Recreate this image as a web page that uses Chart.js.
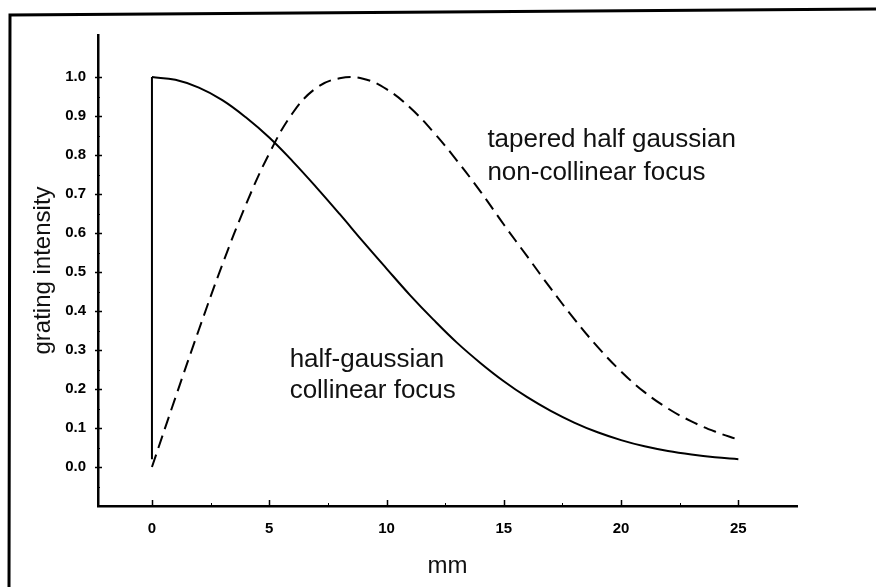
<!DOCTYPE html>
<html>
<head>
<meta charset="utf-8">
<title>grating intensity</title>
<script src="https://cdn.jsdelivr.net/npm/chart.js@4"></script>
<style>
  html, body { margin: 0; padding: 0; background: #fff; }
  #wrap { width: 876px; height: 587px; }
</style>
</head>
<body>
<div id="wrap"><canvas id="gratingChart" width="876" height="587"></canvas></div>
<script>
// position along the grating (mm)
const mm = [0, 1, 2, 3, 4, 5, 6, 7, 8, 9, 10, 11, 12, 13, 14, 15, 16, 17, 18, 19, 20, 21, 22, 23, 24, 25];

// solid curve: half-gaussian, collinear focus (starts with a vertical edge at 0 mm)
const halfGaussianEdge = [0.02, 1.0];
const halfGaussian = [1.000, 0.993, 0.973, 0.941, 0.897, 0.845, 0.784, 0.718, 0.649, 0.578, 0.509, 0.441, 0.378,
                      0.319, 0.267, 0.220, 0.179, 0.144, 0.114, 0.089, 0.069, 0.053, 0.041, 0.032, 0.025, 0.020];

// dashed curve: tapered half gaussian, non-collinear focus
const taperedGaussian = [0.000, 0.178, 0.352, 0.519, 0.672, 0.804, 0.908, 0.972, 0.997, 0.996, 0.969, 0.922, 0.859,
                         0.786, 0.707, 0.622, 0.540, 0.458, 0.380, 0.308, 0.245, 0.192, 0.150, 0.117, 0.091, 0.070];

// tick values
const xTicks = [0, 5, 10, 15, 20, 25];
const xMinorTicks = [2.5, 7.5, 12.5, 17.5, 22.5];
const yTicks = [0.0, 0.1, 0.2, 0.3, 0.4, 0.5, 0.6, 0.7, 0.8, 0.9, 1.0];
const yMinorTicks = [-0.05, 0.05, 0.15, 0.25, 0.35, 0.45, 0.55, 0.65, 0.75, 0.85, 0.95];

// curve labels, placed in data coordinates
const curveNotes = [
    { text: 'tapered half gaussian', x: 14.3, y: 0.82 },
    { text: 'non-collinear focus', x: 14.3, y: 0.736 },
    { text: 'half-gaussian', x: 5.87, y: 0.256 },
    { text: 'collinear focus', x: 5.87, y: 0.177 }
];

const FONT = '"Liberation Sans", Arial, Helvetica, sans-serif';

// inward tick marks, the scanned frame and the curve labels
const paperMarks = {
    id: 'paperMarks',
    afterDraw(chart) {
        const { ctx, chartArea, scales: { x, y } } = chart;
        ctx.save();
        ctx.strokeStyle = '#000';
        ctx.lineCap = 'butt';

        // frame of the figure (top and left edge only)
        ctx.lineWidth = 3;
        ctx.beginPath();
        ctx.moveTo(9, 587);
        ctx.lineTo(10, 15);
        ctx.lineTo(876, 9);
        ctx.stroke();

        // major ticks
        ctx.lineWidth = 1.5;
        ctx.beginPath();
        xTicks.forEach(v => {
            const px = Math.round(x.getPixelForValue(v)) + 0.5;
            ctx.moveTo(px, chartArea.bottom);
            ctx.lineTo(px, chartArea.bottom - 6);
        });
        yTicks.forEach(v => {
            const py = Math.round(y.getPixelForValue(v)) + 0.5;
            ctx.moveTo(chartArea.left - 3, py);
            ctx.lineTo(chartArea.left + 4, py);
        });
        ctx.stroke();

        // minor ticks
        ctx.lineWidth = 1;
        ctx.beginPath();
        xMinorTicks.forEach(v => {
            const px = Math.round(x.getPixelForValue(v)) + 0.5;
            ctx.moveTo(px, chartArea.bottom);
            ctx.lineTo(px, chartArea.bottom - 3);
        });
        yMinorTicks.forEach(v => {
            const py = Math.round(y.getPixelForValue(v)) + 0.5;
            ctx.moveTo(chartArea.left, py);
            ctx.lineTo(chartArea.left + 2, py);
        });
        ctx.stroke();

        // curve labels
        ctx.fillStyle = '#111';
        ctx.font = '26px ' + FONT;
        ctx.textAlign = 'left';
        ctx.textBaseline = 'alphabetic';
        curveNotes.forEach(n => {
            ctx.fillText(n.text, x.getPixelForValue(n.x), y.getPixelForValue(n.y));
        });
        ctx.restore();
    }
};

const ctx = document.getElementById('gratingChart');

new Chart(ctx, {
    type: 'line',
    data: {
        datasets: [
            {
                label: 'half-gaussian edge',
                data: halfGaussianEdge.map(v => ({ x: 0, y: v })),
                borderColor: '#000',
                borderWidth: 2,
                tension: 0,
                pointRadius: 0
            },
            {
                label: 'half-gaussian collinear focus',
                data: mm.map((m, i) => ({ x: m, y: halfGaussian[i] })),
                borderColor: '#000',
                borderWidth: 2,
                tension: 0.4,
                pointRadius: 0
            },
            {
                label: 'tapered half gaussian non-collinear focus',
                data: mm.map((m, i) => ({ x: m, y: taperedGaussian[i] })),
                borderColor: '#000',
                borderWidth: 2,
                borderDash: [13, 7],
                tension: 0.4,
                pointRadius: 0
            }
        ]
    },
    options: {
        responsive: false,
        animation: false,
        events: [],
        layout: { padding: { top: 35, right: 79, left: 0, bottom: 0 } },
        plugins: {
            legend: { display: false },
            tooltip: { enabled: false }
        },
        scales: {
            x: {
                type: 'linear',
                min: -2.3,
                max: 27.5,
                afterBuildTicks: scale => { scale.ticks = xTicks.map(v => ({ value: v })); },
                afterFit: scale => { scale.height = 81; },
                grid: { display: false, drawTicks: false },
                border: { color: '#000', width: 2.5 },
                ticks: {
                    padding: 14,
                    color: '#000',
                    font: { family: FONT, size: 15, weight: 'bold' },
                    callback: v => String(v)
                },
                title: {
                    display: true,
                    text: 'mm',
                    color: '#111',
                    font: { family: FONT, size: 24 },
                    padding: { top: 0, bottom: 6 }
                }
            },
            y: {
                type: 'linear',
                min: -0.1,
                max: 1.108,
                afterBuildTicks: scale => { scale.ticks = yTicks.map(v => ({ value: v })); },
                afterFit: scale => { scale.width = 98; },
                grid: { display: false, drawTicks: false },
                border: { color: '#000', width: 2.5 },
                ticks: {
                    padding: 12,
                    color: '#000',
                    font: { family: FONT, size: 15, weight: 'bold' },
                    callback: v => Number(v).toFixed(1)
                },
                title: {
                    display: true,
                    text: 'grating intensity',
                    color: '#111',
                    font: { family: FONT, size: 24 },
                    padding: { top: 29, bottom: 0 }
                }
            }
        }
    },
    plugins: [paperMarks]
});
</script>
</body>
</html>
